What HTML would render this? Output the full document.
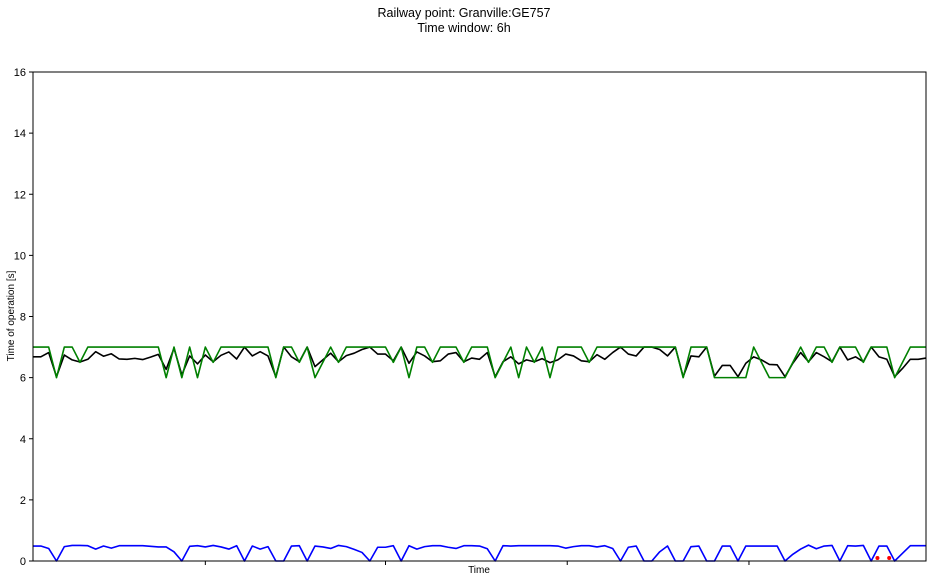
<!DOCTYPE html>
<html><head><meta charset="utf-8"><style>
html,body{margin:0;padding:0;background:#fff;}
svg{display:block;font-family:"Liberation Sans","DejaVu Sans",sans-serif;}
</style></head><body>
<svg id="chart" width="936" height="582" viewBox="0 0 936 582" xmlns="http://www.w3.org/2000/svg">
<rect x="0" y="0" width="936" height="582" fill="#fff"/>
<text x="464" y="17" text-anchor="middle" font-size="12.5">Railway point: Granville:GE757</text>
<text x="464" y="32" text-anchor="middle" font-size="12.5">Time window: 6h</text>
<g id="yticks"></g>
<g id="xticks"></g>
<g id="series"></g>
<rect x="33" y="72" width="893" height="489" fill="none" stroke="#000" stroke-width="1"/>
<text x="479" y="573" text-anchor="middle" font-size="10">Time</text>
<text transform="translate(14,316) rotate(-90)" text-anchor="middle" font-size="10">Time of operation [s]</text>
</svg>
<script>
const yTicks = [0,2,4,6,8,10,12,14,16];
const xTickIdx = [22, 45, 68.2, 91.4];
const greenSeries = [7,7,7,6,7,7,6.5,7,7,7,7,7,7,7,7,7,7,6,7,6,7,6,7,6.5,7,7,7,7,7,7,7,6,7,7,6.5,7,6,6.5,7,6.5,
7,7,7,7,7,7,6.5,7,6,7,7,6.5,7,7,7,6.5,7,7,7,6,6.5,7,6,7,6.5,7,6,7,7,7,7,6.5,7,7,7,7,7,7,7,7,
7,7,7,6,7,7,7,6,6,6,6,6,7,6.5,6,6,6,6.5,7,6.5,7,7,6.5,7,7,7,6.5,7,7,7,6,6.5,7,7,7];
const blackSeries = [6.68,6.68,6.82,6.03,6.74,6.58,6.51,6.6,6.85,6.7,6.78,6.61,6.6,6.63,6.59,6.67,6.76,6.27,6.96,6.09,6.71,6.45,6.74,6.52,6.73,6.84,6.61,7,6.71,6.85,6.71,6.03,7,6.68,6.52,7,6.36,6.58,6.8,6.52,
6.72,6.8,6.92,7,6.77,6.77,6.55,7,6.47,6.84,6.71,6.52,6.55,6.77,6.82,6.52,6.64,6.6,6.82,6.03,6.52,6.68,6.45,6.58,6.52,6.62,6.49,6.58,6.77,6.71,6.55,6.52,6.75,6.6,6.82,7,6.77,6.71,7,7,
6.92,6.71,7,6.03,6.71,6.68,7,6.05,6.4,6.4,6.03,6.47,6.68,6.58,6.43,6.42,6.03,6.47,6.82,6.52,6.82,6.68,6.52,7,6.58,6.68,6.52,7,6.68,6.6,6.03,6.3,6.6,6.6,6.64];
const blueSeries = [0.49,0.49,0.41,0,0.47,0.51,0.51,0.5,0.39,0.49,0.42,0.5,0.5,0.5,0.5,0.48,0.46,0.46,0.3,0,0.48,0.5,0.46,0.51,0.46,0.39,0.5,0,0.49,0.39,0.47,0,0,0.49,0.5,0,0.49,0.46,0.41,0.51,
0.47,0.38,0.28,0,0.45,0.45,0.5,0,0.5,0.39,0.47,0.5,0.5,0.45,0.41,0.5,0.5,0.49,0.4,0,0.5,0.49,0.5,0.5,0.5,0.5,0.5,0.49,0.42,0.47,0.5,0.5,0.46,0.5,0.41,0,0.45,0.49,0,0,
0.3,0.49,0,0,0.47,0.49,0,0,0.49,0.49,0,0.49,0.49,0.49,0.49,0.49,0,0.22,0.39,0.52,0.4,0.49,0.51,0,0.5,0.49,0.51,0,0.49,0.49,0,0.25,0.5,0.5,0.5];
const redIdx = [107.8, 109.3];
const redVals = [0.1, 0.1];

const X0 = 33, X1 = 926, Y0 = 561, Y1 = 72, N = 114;
const xs = i => X0 + (X1 - X0) * i / N;
const ys = v => Y0 - (Y0 - Y1) * v / 16;
const NS = 'http://www.w3.org/2000/svg';
function mk(tag, attrs, parent){ const e = document.createElementNS(NS, tag); for (const k in attrs) e.setAttribute(k, attrs[k]); parent.appendChild(e); return e; }

const yg = document.getElementById('yticks');
yTicks.forEach(t => {
  const l = mk('line', {x1: X0-4, x2: X0, y1: ys(t), y2: ys(t), stroke: '#000', 'stroke-width': 1}, yg);
  
  
  const tx = mk('text', {x: X0-7, y: ys(t)+4, 'text-anchor': 'end', 'font-size': 11}, yg);
  
  
  tx.textContent = t;
});
const xg = document.getElementById('xticks');
xTickIdx.forEach(i => {
  const l = mk('line', {x1: xs(i), x2: xs(i), y1: Y0, y2: Y0+4, stroke: '#000', 'stroke-width': 1}, xg);
  
  
});
const sg = document.getElementById('series');
function line(vals, color, name){
  const pts = vals.map((v, i) => xs(i).toFixed(2) + ',' + ys(v).toFixed(2)).join(' ');
  const p = mk('polyline', {points: pts, fill: 'none', stroke: color, 'stroke-width': 1.6, 'stroke-linejoin': 'round'}, sg);
  
  
}
line(blueSeries, '#0000ff', 'series-min-line');
line(blackSeries, '#000000', 'series-mean-line');
line(greenSeries, '#008000', 'series-max-line');
redIdx.forEach((i, k) => {
  const c = mk('circle', {cx: xs(i), cy: ys(redVals[k]), r: 2, fill: '#ff0000'}, sg);
  
  
});
</script>
</body></html>
